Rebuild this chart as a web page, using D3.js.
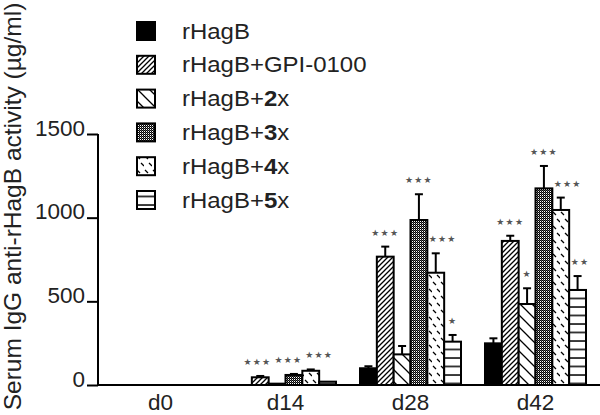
<!DOCTYPE html>
<html><head><meta charset="utf-8">
<script src="https://cdn.jsdelivr.net/npm/d3@7"></script>
<style>body{margin:0;background:#fff}svg{display:block}</style>
</head><body>
<script>
const categories = ["d0","d14","d28","d42"];
const seriesNames = ["rHagB","rHagB+GPI-0100","rHagB+2x","rHagB+3x","rHagB+4x","rHagB+5x"];
const rHagB    = [0, 0, 100, 249];
const rHagBGPI = [0, 46, 767, 861];
const rHagB2x  = [0, 8, 183, 484];
const rHagB3x  = [0, 60, 986, 1175];
const rHagB4x  = [0, 85, 671, 1046];
const rHagB5x  = [0, 20, 259, 568];
const errRHagB = [0, 0, 12, 30];
const errGPI   = [0, 8, 60, 31];
const err2x    = [0, 0, 50, 94];
const err3x    = [0, 6, 154, 134];
const err4x    = [0, 8, 116, 74];
const err5x    = [0, 0, 40, 83];
const stars2d  = [
  ["", "", "", ""],
  ["", "***", "***", "***"],
  ["", "", "", "*"],
  ["", "***", "***", "***"],
  ["", "***", "***", "***"],
  ["", "", "*", "**"]
];
const yTicks = [0, 500, 1000, 1500];
const yTitle = "Serum IgG anti-rHagB activity (µg/ml)";

const values = [rHagB, rHagBGPI, rHagB2x, rHagB3x, rHagB4x, rHagB5x];
const errors = [errRHagB, errGPI, err2x, err3x, err4x, err5x];

const W = 600, H = 415;
const FONT = "Liberation Sans, Arial, sans-serif";
const svg = d3.select("body").append("svg").attr("width", W).attr("height", H);
const defs = svg.append("defs");

function pat(id, w, h, draw) {
  const p = defs.append("pattern").attr("id", id).attr("patternUnits", "userSpaceOnUse")
    .attr("width", w).attr("height", h);
  p.append("rect").attr("width", w).attr("height", h).attr("fill", "#fff");
  draw(p);
}
pat("p1", 5, 5, p => p.append("path").attr("d", "M0,5L5,0M-1,1L1,-1M4,6L6,4").attr("stroke", "#000").attr("stroke-width", 1.3));
pat("p2", 12, 12, p => p.append("path").attr("d", "M0,0L12,12M-3,9L3,15M9,-3L15,3").attr("stroke", "#000").attr("stroke-width", 1.3));
pat("p3", 2, 2, p => {
  p.append("rect").attr("x", 0).attr("y", 0).attr("width", 1).attr("height", 1).attr("fill", "#000");
  p.append("rect").attr("x", 1).attr("y", 1).attr("width", 1).attr("height", 1).attr("fill", "#000");
  p.append("rect").attr("x", 1).attr("y", 0).attr("width", 1).attr("height", 1).attr("fill", "#555");
});
pat("p4", 8, 14, p => p.append("path").attr("d", "M1,2L4,5M5,9L8,12").attr("stroke", "#000").attr("stroke-width", 1.3));
pat("p5", 8, 8.5, p => p.append("path").attr("d", "M0,1H8").attr("stroke", "#000").attr("stroke-width", 1.5));
const fills = ["#000", "url(#p1)", "url(#p2)", "url(#p3)", "url(#p4)", "url(#p5)"];

const x0 = d3.scaleBand().domain(categories).range([98, 598]).padding(0);
const x1 = d3.scaleBand().domain(d3.range(seriesNames.length)).range([12, 113]).padding(0);
const y = d3.scaleLinear().domain([0, 1500]).range([385, 134]);

// axes
const yAxis = svg.append("g").attr("transform", "translate(98,0)")
  .call(d3.axisLeft(y).tickValues(yTicks).tickSize(11).tickPadding(2).tickFormat(d3.format("d")));
yAxis.select(".domain").attr("stroke", "#000").attr("stroke-width", 2).attr("d", "M0,134V385");
yAxis.selectAll(".tick line").attr("stroke", "#000").attr("stroke-width", 2);
yAxis.selectAll(".tick text").attr("font-family", FONT)
  .attr("font-size", 22.5).attr("fill", "#222").attr("dy", null).attr("y", 1).attr("x", -13);

const xAxis = svg.append("g").attr("transform", "translate(0,385)")
  .call(d3.axisBottom(x0).tickSize(0).tickPadding(0));
xAxis.select(".domain").attr("stroke", "#000").attr("stroke-width", 2).attr("d", "M98,0H600");
xAxis.selectAll(".tick text").attr("font-family", FONT)
  .attr("font-size", 22.5).attr("fill", "#222").attr("dy", null).attr("y", 25);

// bars
const flat = [];
categories.forEach((c, ci) => values.forEach((vals, si) => {
  flat.push({c, ci, si, v: vals[ci], e: errors[si][ci], s: stars2d[si][ci]});
}));
const barG = svg.append("g");
const starG = svg.append("g");
const bw = x1.bandwidth();
const starLabels = [];
const barBox = {};
flat.filter(d => d.v > 0).forEach(d => {
  const bx = x0(d.c) + x1(d.si);
  barBox[d.ci + "_" + d.si] = {l: bx, r: bx + bw, top: y(d.v)};
  barG.append("rect").attr("x", bx).attr("y", y(d.v)).attr("width", bw).attr("height", y(0) - y(d.v))
    .attr("fill", fills[d.si]).attr("stroke", "#000").attr("stroke-width", 2);
  const cx = bx + bw / 2;
  if (d.e > 0) {
    barG.append("line").attr("x1", cx).attr("x2", cx).attr("y1", y(d.v)).attr("y2", y(d.v + d.e))
      .attr("stroke", "#000").attr("stroke-width", 2);
    barG.append("line").attr("x1", cx - 4).attr("x2", cx + 4).attr("y1", y(d.v + d.e)).attr("y2", y(d.v + d.e))
      .attr("stroke", "#000").attr("stroke-width", 2);
  }
  if (d.s) {
    const sy = y(d.v + d.e) - 11;
    const t = starG.append("text").attr("x", cx).attr("y", sy).attr("text-anchor", "middle")
      .attr("font-family", "DejaVu Sans, sans-serif").attr("font-size", 9).attr("fill", "#555")
      .attr("letter-spacing", 1.2)
      .text(d.s.replace(/\*/g, "★"));
    starLabels.push({t, ci: d.ci, si: d.si, x: cx, y: sy, w: t.node().getComputedTextLength()});
  }
});
// keep star labels clear of neighbouring bars
starLabels.forEach(l => {
  const bottom = l.y + 3;
  const left = barBox[l.ci + "_" + (l.si - 1)];
  const right = barBox[l.ci + "_" + (l.si + 1)];
  if (left && left.top < bottom) l.x = Math.max(l.x, left.r + 1.5 + l.w / 2);
  if (right && right.top < bottom) l.x = Math.min(l.x, right.l - 1.5 - l.w / 2);
});
// spread star labels that would collide (same group, similar height)
categories.forEach((c, ci) => {
  const ls = starLabels.filter(l => l.ci === ci).sort((a, b) => a.x - b.x);
  for (let it = 0; it < 30; it++) {
    for (let i = 1; i < ls.length; i++) {
      const a = ls[i - 1], b = ls[i];
      if (Math.abs(a.y - b.y) > 12) continue;
      const need = (a.w + b.w) / 2 + 3 - (b.x - a.x);
      if (need > 0) { a.x -= need / 2; b.x += need / 2; }
    }
  }
  ls.forEach(l => l.t.attr("x", l.x));
});

// legend
const leg = svg.append("g");
seriesNames.forEach((name, i) => {
  const ly = 31 + i * 33.8;
  leg.append("rect").attr("x", 137).attr("y", ly - 9).attr("width", 18).attr("height", 18)
    .attr("fill", fills[i]).attr("stroke", "#000").attr("stroke-width", 2);
  const t = leg.append("text").attr("transform", `translate(182,${ly + 7.5}) scale(1.09,1)`)
    .attr("font-family", FONT).attr("font-size", 22).attr("fill", "#222");
  const m = name.match(/^(rHagB\+)(\d)(x)$/);
  if (m) {
    t.append("tspan").text(m[1]);
    t.append("tspan").attr("font-weight", "bold").text(m[2]);
    t.append("tspan").text(m[3]);
  } else t.text(name);
});

// y title
svg.append("text").attr("transform", "translate(21,206.5) rotate(-90)").attr("text-anchor", "middle")
  .attr("font-family", FONT).attr("font-size", 24.5).attr("fill", "#222")
  .text(yTitle);
</script>
</body></html>
